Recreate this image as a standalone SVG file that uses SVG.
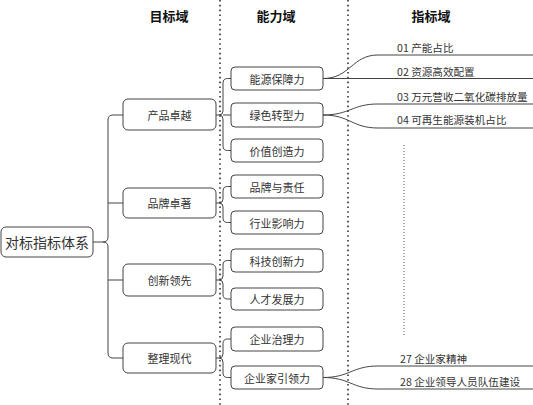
<svg xmlns="http://www.w3.org/2000/svg" width="533" height="405" viewBox="0 0 533 405">
<style>
.bx{fill:#fff;stroke:#444;stroke-width:1}
.t{font-family:"Noto Sans CJK SC","Liberation Sans",sans-serif;font-size:11px;fill:#333;text-anchor:middle;dominant-baseline:central}
.h{font-family:"Noto Sans CJK SC","Liberation Sans",sans-serif;font-size:13px;font-weight:bold;fill:#111;text-anchor:middle;dominant-baseline:central}
.i{font-family:"Noto Sans CJK SC","Liberation Sans",sans-serif;font-size:10.6px;fill:#333;dominant-baseline:central}
.ln{fill:none;stroke:#444;stroke-width:1}
.dot{fill:none;stroke:#333;stroke-width:1.6;stroke-dasharray:1.6 3.2}
.dot2{fill:none;stroke:#555;stroke-width:1;stroke-dasharray:1 2}
</style>
<rect width="533" height="405" fill="#fff"/>
<g id="dividers">
<line class="dot" x1="220" y1="0" x2="220" y2="405"/>
<line class="dot" x1="348" y1="0" x2="348" y2="405"/>
<line class="dot2" x1="404" y1="145" x2="404" y2="336"/>
</g>
<g id="headers">
<text class="h" x="169" y="15">目标域</text>
<text class="h" x="276" y="15">能力域</text>
<text class="h" x="431" y="15">指标域</text>
</g>
<g id="connectors">
<path class="ln" d="M93,242 H103 Q108,242 108,237 V120 Q108,115 113,115 H123"/>
<path class="ln" d="M103,242 Q108,242 108,247 V353 Q108,358 113,358 H123"/>
<path class="ln" d="M108,203 H123 M108,280 H123"/>
<path class="ln" d="M216,115 H219 Q223,115 223,111 V83 Q223,78.5 227.5,78.5 H231 M219,115 Q223,115 223,119 V146 Q223,150.5 227.5,150.5 H231 M223,115 H231"/>
<path class="ln" d="M216,203 H219 Q223,203 223,199 V191 Q223,186.5 227.5,186.5 H231 M219,203 Q223,203 223,207 V218 Q223,222.5 227.5,222.5 H231"/>
<path class="ln" d="M216,280 H219 Q223,280 223,276 V265 Q223,260.5 227.5,260.5 H231 M219,280 Q223,280 223,284 V294.5 Q223,299 227.5,299 H231"/>
<path class="ln" d="M216,358 H219 Q223,358 223,354 V343.5 Q223,339 227.5,339 H231 M219,358 Q223,358 223,362 V373 Q223,377.5 227.5,377.5 H231"/>
<path class="ln" d="M323,78.5 C350,78.5 352,55 378,55 H533 M323,78.5 H533"/>
<path class="ln" d="M323,115 C350,115 352,104 378,104 H533 M323,115 C350,115 352,128 378,128 H533"/>
<path class="ln" d="M323,377.5 C350,377.5 352,366 378,366 H533 M323,377.5 C350,377.5 352,389 378,389 H533"/>
</g>
<g id="root"><rect class="bx" x="1" y="227" width="92" height="30" rx="5"/><text class="t" x="47" y="242" style="font-size:14px">对标指标体系</text></g>
<g id="goal1"><rect class="bx" x="123" y="99" width="93" height="31" rx="5"/><text class="t" x="169.5" y="114.5">产品卓越</text></g>
<g id="goal2"><rect class="bx" x="123" y="188" width="93" height="30" rx="5"/><text class="t" x="169.5" y="203">品牌卓著</text></g>
<g id="goal3"><rect class="bx" x="123" y="264" width="93" height="32" rx="5"/><text class="t" x="169.5" y="280">创新领先</text></g>
<g id="goal4"><rect class="bx" x="123" y="343" width="93" height="30" rx="5"/><text class="t" x="169.5" y="358">整理现代</text></g>
<g id="cap1"><rect class="bx" x="231" y="67" width="92" height="23" rx="4"/><text class="t" x="277" y="78.5">能源保障力</text></g>
<g id="cap2"><rect class="bx" x="231" y="103" width="92" height="24" rx="4"/><text class="t" x="277" y="115">绿色转型力</text></g>
<g id="cap3"><rect class="bx" x="231" y="139" width="92" height="23" rx="4"/><text class="t" x="277" y="150.5">价值创造力</text></g>
<g id="cap4"><rect class="bx" x="231" y="175" width="92" height="23" rx="4"/><text class="t" x="277" y="186.5">品牌与责任</text></g>
<g id="cap5"><rect class="bx" x="231" y="211" width="92" height="23" rx="4"/><text class="t" x="277" y="222.5">行业影响力</text></g>
<g id="cap6"><rect class="bx" x="231" y="249" width="92" height="23" rx="4"/><text class="t" x="277" y="260.5">科技创新力</text></g>
<g id="cap7"><rect class="bx" x="231" y="288" width="92" height="22" rx="4"/><text class="t" x="277" y="299">人才发展力</text></g>
<g id="cap8"><rect class="bx" x="231" y="327" width="92" height="24" rx="4"/><text class="t" x="277" y="339">企业治理力</text></g>
<g id="cap9"><rect class="bx" x="231" y="366" width="92" height="23" rx="4"/><text class="t" x="277" y="377.5">企业家引领力</text></g>
<g id="indicators">
<text class="i" x="397" y="47.5">01 产能占比</text>
<text class="i" x="397" y="71">02 资源高效配置</text>
<text class="i" x="397" y="96.5">03 万元营收二氧化碳排放量</text>
<text class="i" x="397" y="119.5">04 可再生能源装机占比</text>
<text class="i" x="400" y="358">27 企业家精神</text>
<text class="i" x="400" y="381">28 企业领导人员队伍建设</text>
</g>
</svg>
